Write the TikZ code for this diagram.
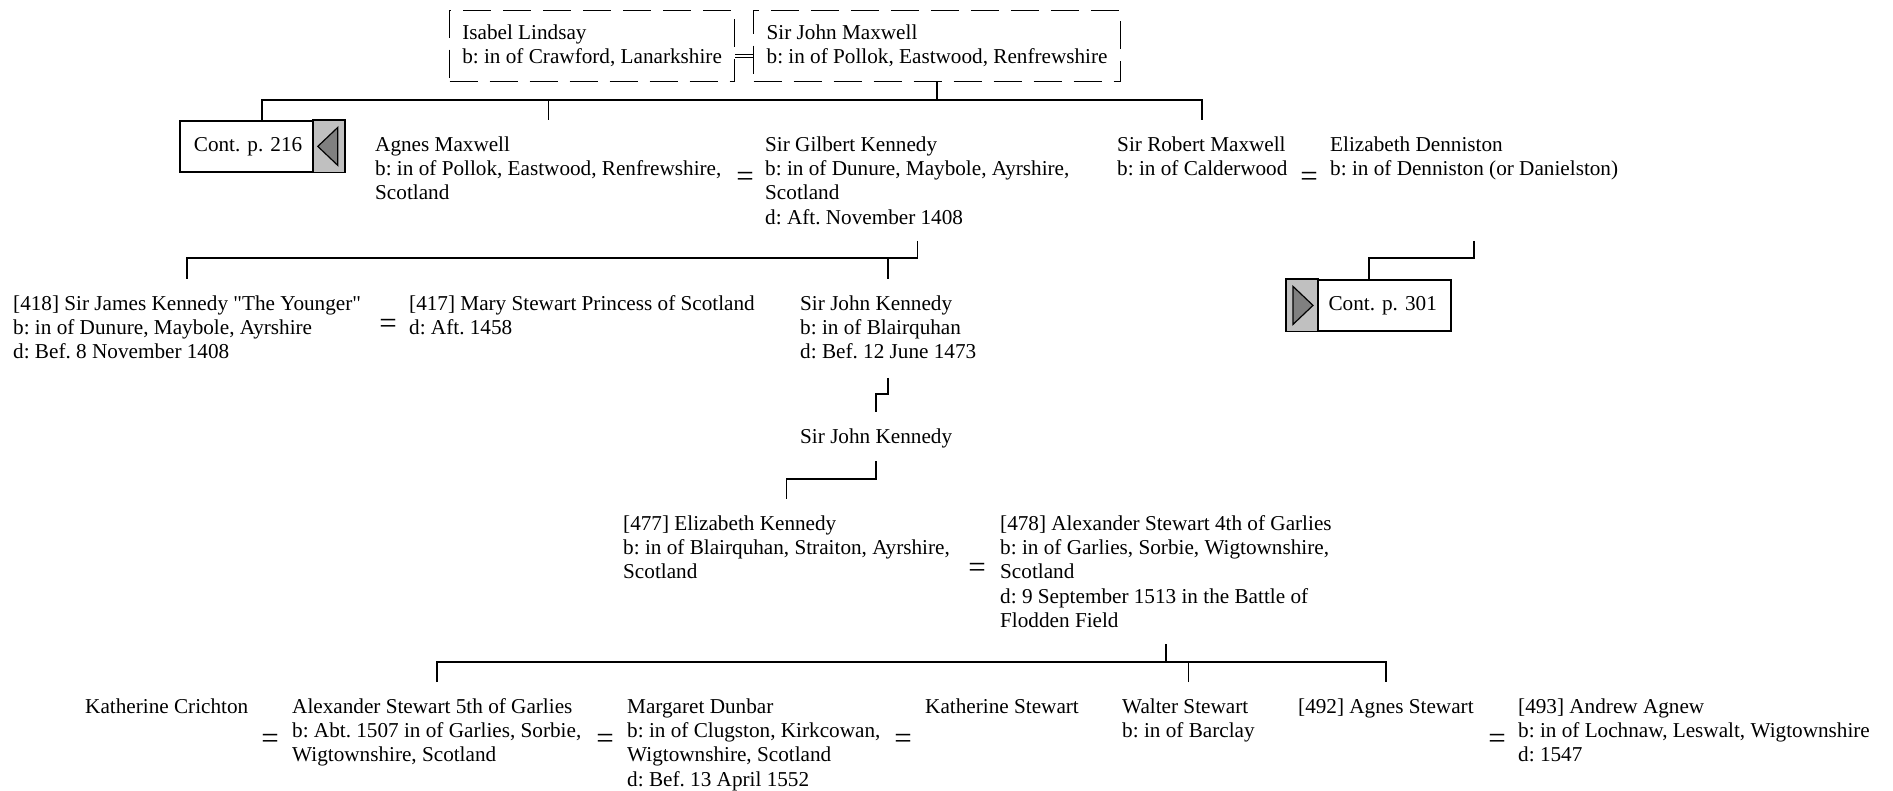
\documentclass[tikz,border=0pt]{standalone}
\usepackage{fontspec}
\setmainfont{Liberation Serif}[Ligatures=TeXOff]
\usepackage{tikz}
\usetikzlibrary{positioning}
\definecolor{contgrey}{HTML}{C0C0C0}
\definecolor{arrowgrey}{HTML}{808080}
\newcommand\psize{\fontsize{21.2}{24.3}\selectfont\frenchspacing}

\begin{document}
\begin{tikzpicture}[x=1pt,y=-1pt,
    person/.style={anchor=north west,align=left,inner xsep=0pt,inner ysep=14pt,font=\psize},
    topbox/.style={draw,dash pattern=on 28pt off 12pt,line width=1.2pt,anchor=north west,align=left,
      inner sep=0pt,minimum height=71pt,font=\psize},
    contbox/.style={draw,line width=1.8pt,anchor=north west,minimum height=51pt,text width=136pt,
      inner xsep=14pt,inner ysep=0pt,font=\psize},
    eqsign/.style={inner sep=0pt,font=\fontsize{31}{31}\selectfont},
    link/.style={line width=1.6pt},
    wedding/.style={double,double distance=2.4pt,line width=1pt}]
  \useasboundingbox (0,0) rectangle (1893,791);
  \coordinate (lvl1) at (0,100);
  \coordinate (up2) at (0,241);
  \coordinate (lvl2) at (0,258);
  \coordinate (up3) at (0,378);
  \coordinate (lvl3) at (0,394);
  \coordinate (up4) at (0,461);
  \coordinate (lvl4) at (0,479);
  \coordinate (up5) at (0,644);
  \coordinate (lvl5) at (0,662);

  \node[topbox,minimum width=285pt] (isabel) at (449,10) {Isabel Lindsay\\b: in of Crawford, Lanarkshire};
  \node[topbox,minimum width=367pt] (sjm) at (753,10) {Sir John Maxwell\\b: in of Pollok, Eastwood, Renfrewshire};
  \draw[wedding] ([yshift=-10pt]isabel.east) -- ([yshift=-10pt]sjm.west);

  \node[contbox,align=left] (cont216) at (179,120) {Cont. p. 216};
  \fill[contgrey,draw=black,line width=1.4pt] ([xshift=-32pt]cont216.north east) rectangle (cont216.south east);
  \filldraw[fill=arrowgrey,line width=1.2pt] ([xshift=-27pt]cont216.east) -- ([xshift=-7pt,yshift=19pt]cont216.east)
    -- ([xshift=-7pt,yshift=-19pt]cont216.east) -- cycle;
  \node[person] (agnes) at (375,120) {\strut Agnes Maxwell\\b: in of Pollok, Eastwood, Renfrewshire,\\Scotland};
  \node[person] (gilbert) at (765,120) {\strut Sir Gilbert Kennedy\\b: in of Dunure, Maybole, Ayrshire,\\Scotland\\d: Aft. November 1408};
  \node[person] (robert) at (1117,120) {\strut Sir Robert Maxwell\\b: in of Calderwood};
  \node[person] (denniston) at (1330,120) {\strut Elizabeth Denniston\\b: in of Denniston (or Danielston)};
  \node[eqsign] (eq1) at (745,179) {=};
  \node[eqsign] (eq2) at (1309,179) {=};

  \node[person] (james) at (13,279) {\strut [418] Sir James Kennedy "The Younger"\\b: in of Dunure, Maybole, Ayrshire\\d: Bef. 8 November 1408};
  \node[person] (mary) at (409,279) {\strut [417] Mary Stewart Princess of Scotland\\d: Aft. 1458};
  \node[person] (sjk) at (800,279) {\strut Sir John Kennedy\\b: in of Blairquhan\\d: Bef. 12 June 1473};
  \node[eqsign] (eq3) at (388,326) {=};
  \node[contbox,align=right] (cont301) at (1286,279) {Cont. p. 301};
  \fill[contgrey,draw=black,line width=1.4pt] (cont301.north west) rectangle ([xshift=32pt]cont301.south west);
  \filldraw[fill=arrowgrey,line width=1.2pt] ([xshift=27pt]cont301.west) -- ([xshift=7pt,yshift=19pt]cont301.west)
    -- ([xshift=7pt,yshift=-19pt]cont301.west) -- cycle;

  \node[person] (sjk2) at (800,412) {\strut Sir John Kennedy};

  \node[person] (elizk) at (623,499) {\strut [477] Elizabeth Kennedy\\b: in of Blairquhan, Straiton, Ayrshire,\\Scotland};
  \node[person] (alexf) at (1000,499) {\strut [478] Alexander Stewart 4th of Garlies\\b: in of Garlies, Sorbie, Wigtownshire,\\Scotland\\d: 9 September 1513 in the Battle of\\Flodden Field};
  \node[eqsign] (eq4) at (977,570) {=};

  \node[person] (kcrichton) at (85,682) {\strut Katherine Crichton};
  \node[person] (alexs) at (292,682) {\strut Alexander Stewart 5th of Garlies\\b: Abt. 1507 in of Garlies, Sorbie,\\Wigtownshire, Scotland};
  \node[person] (margaret) at (627,682) {\strut Margaret Dunbar\\b: in of Clugston, Kirkcowan,\\Wigtownshire, Scotland\\d: Bef. 13 April 1552};
  \node[person] (kstewart) at (925,682) {\strut Katherine Stewart};
  \node[person] (walter) at (1122,682) {\strut Walter Stewart\\b: in of Barclay};
  \node[person] (agness) at (1298,682) {\strut [492] Agnes Stewart};
  \node[person] (andrew) at (1518,682) {\strut [493] Andrew Agnew\\b: in of Lochnaw, Leswalt, Wigtownshire\\d: 1547};
  \node[eqsign] (eq5) at (270,741) {=};
  \node[eqsign] (eq6) at (605,741) {=};
  \node[eqsign] (eq7) at (903,741) {=};
  \node[eqsign] (eq8) at (1497,741) {=};

  \draw[link] (sjm.south) -- (sjm.south |- lvl1);
  \draw[link] (cont216.north) |- (robert.north |- lvl1) -- (robert.north);
  \draw[link] (agnes.north) -- (agnes.north |- lvl1);
  \draw[link] (gilbert.south |- up2) -- (gilbert.south |- lvl2) -| (james.north);
  \draw[link] (sjk.north) -- (sjk.north |- lvl2);
  \draw[link] (denniston.south |- up2) -- (denniston.south |- lvl2) -| (cont301.north);
  \draw[link] (sjk.south |- up3) -- (sjk.south |- lvl3) -| (sjk2.north);
  \draw[link] (sjk2.south |- up4) -- (sjk2.south |- lvl4) -| (elizk.north);
  \draw[link] (alexf.south |- up5) -- (alexf.south |- lvl5);
  \draw[link] (alexs.north) |- (agness.north |- lvl5) -- (agness.north);
  \draw[link] (walter.north) -- (walter.north |- lvl5);
\end{tikzpicture}
\end{document}
